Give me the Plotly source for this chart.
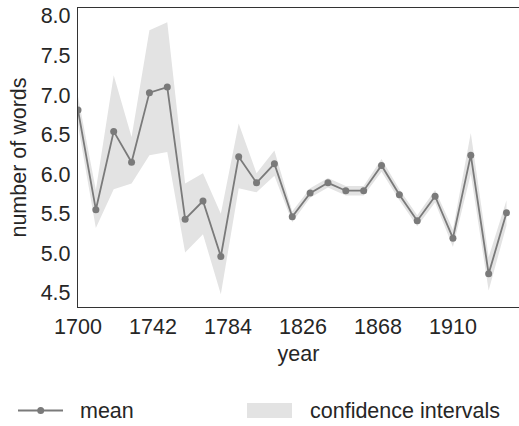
import plotly.graph_objects as go

years = [1700, 1710, 1720, 1730, 1740, 1750, 1760, 1770, 1780, 1790, 1800, 1810, 1820,
         1830, 1840, 1850, 1860, 1870, 1880, 1890, 1900, 1910, 1920, 1930, 1940]
mean_words = [6.81, 5.55, 6.54, 6.15, 7.03, 7.10, 5.43, 5.66, 4.96, 6.22, 5.89, 6.13, 5.46,
              5.76, 5.89, 5.79, 5.79, 6.11, 5.74, 5.41, 5.72, 5.19, 6.24, 4.74, 5.51]
ci_upper = [6.98, 5.80, 7.25, 6.47, 7.82, 7.92, 5.88, 6.01, 5.50, 6.64, 6.01, 6.30, 5.53,
            5.82, 5.95, 5.85, 5.85, 6.19, 5.81, 5.48, 5.80, 5.30, 6.52, 4.95, 5.67]
ci_lower = [6.62, 5.32, 5.81, 5.88, 6.24, 6.28, 5.01, 5.24, 4.48, 5.82, 5.77, 5.98, 5.39,
            5.70, 5.83, 5.73, 5.73, 6.03, 5.67, 5.34, 5.64, 5.08, 6.00, 4.53, 5.35]
x_ticks = [1700, 1742, 1784, 1826, 1868, 1910]
y_ticks = [4.5, 5.0, 5.5, 6.0, 6.5, 7.0, 7.5, 8.0]

FONT = "Liberation Sans, Arial, sans-serif"
TXT = "#262626"
BAND = "#e3e3e3"
LINE = "#7a7a7a"
FS = 21.5

fig = go.Figure()
fig.add_trace(go.Scatter(x=years, y=ci_lower, mode="lines", line=dict(width=0, color=BAND),
                         showlegend=False, hoverinfo="skip"))
fig.add_trace(go.Scatter(x=years, y=ci_upper, mode="lines", line=dict(width=0, color=BAND),
                         fill="tonexty", fillcolor=BAND, name="confidence intervals",
                         showlegend=False))
fig.add_trace(go.Scatter(x=years, y=mean_words, mode="lines+markers", name="mean",
                         line=dict(color=LINE, width=1.8),
                         marker=dict(color=LINE, size=7), showlegend=False))

L, R, T, B = 78, 0, 8, 119
W, H = 519, 426
pw, ph = W - L - R, H - T - B

def px(x):
    return (x - L) / pw

def py(y):
    return (H - B - y) / ph

# legend drawn below the plot
fig.add_shape(type="line", xref="paper", yref="paper", x0=px(18), x1=px(63),
              y0=py(410.5), y1=py(410.5), line=dict(color=LINE, width=1.8))
fig.add_shape(type="circle", xref="paper", yref="paper", x0=px(37.2), x1=px(44.2),
              y0=py(407), y1=py(414), fillcolor=LINE, line=dict(width=0))
fig.add_shape(type="rect", xref="paper", yref="paper", x0=px(247), x1=px(292),
              y0=py(403), y1=py(418), fillcolor=BAND, line=dict(width=0))
fig.add_annotation(text="mean", xref="paper", yref="paper", x=px(78), y=py(410.5),
                   xanchor="left", yanchor="middle", showarrow=False,
                   font=dict(family=FONT, size=FS, color=TXT))
fig.add_annotation(text="confidence intervals", xref="paper", yref="paper", x=px(308),
                   y=py(410.5), xanchor="left", yanchor="middle", showarrow=False,
                   font=dict(family=FONT, size=FS, color=TXT))

fig.update_layout(
    width=W, height=H,
    margin=dict(l=L, r=R, t=T, b=B, autoexpand=False),
    paper_bgcolor="white", plot_bgcolor="white",
    font=dict(family=FONT, size=FS, color=TXT),
    showlegend=False,
)
fig.update_xaxes(range=[1700, 1947], tickvals=x_ticks, ticks="", showgrid=False,
                 zeroline=False, showline=True, mirror=True, linecolor="#333333",
                 linewidth=1.3, ticklabelstandoff=0, automargin=False,
                 title=dict(text="year", standoff=7, font=dict(size=FS)))
fig.update_yaxes(range=[4.32, 8.10], tickvals=y_ticks, tickformat=".1f", ticks="",
                 showgrid=False, zeroline=False, showline=True, mirror=False,
                 linecolor="#333333", linewidth=1.3, ticklabelstandoff=2, automargin=False,
                 title=dict(text="number of words", standoff=8, font=dict(size=FS)))

fig.write_html("out.html", config={"displayModeBar": False},
               post_script="document.body.style.margin='0';document.body.style.overflow='hidden';")
